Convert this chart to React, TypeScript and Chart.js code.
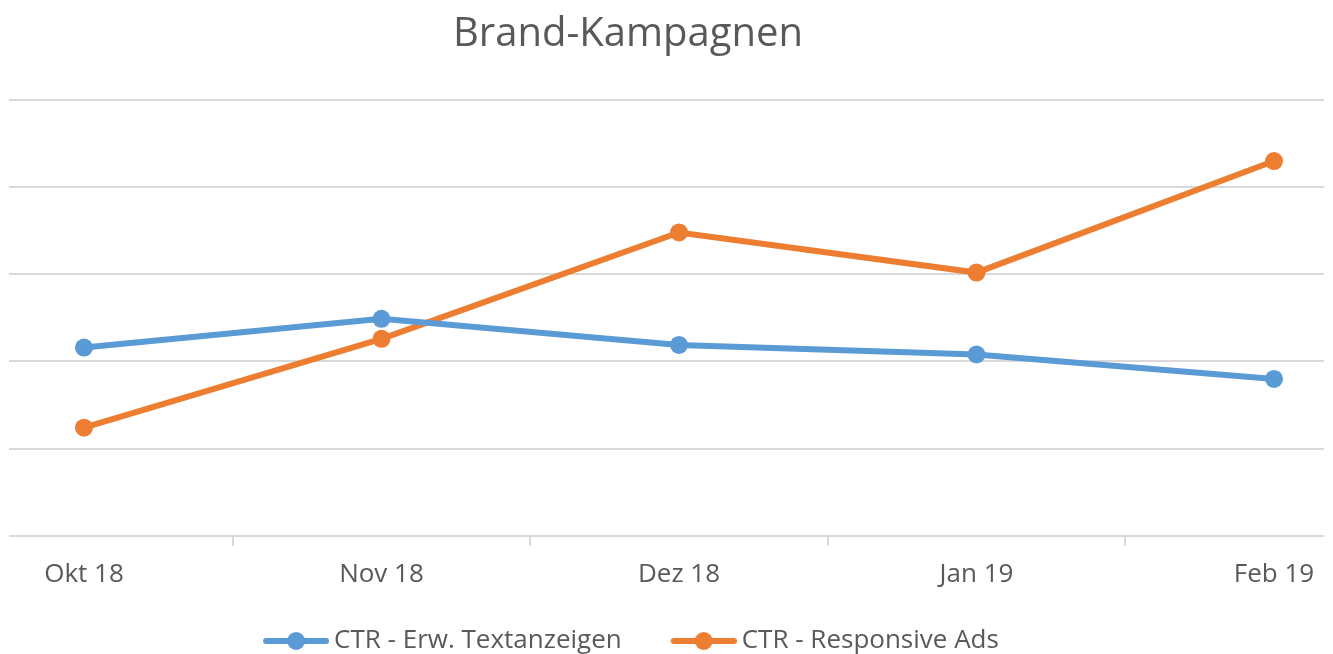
import React, { useEffect, useRef } from "react";
import { Chart, registerables } from "chart.js";

Chart.register(...registerables);

const TITLE = "Brand-Kampagnen";
const categories = ["Okt 18", "Nov 18", "Dez 18", "Jan 19", "Feb 19"];
const seriesNames = ["CTR - Erw. Textanzeigen", "CTR - Responsive Ads"];
const textanzeigen = [2.16, 2.49, 2.19, 2.08, 1.8];
const responsiveAds = [1.24, 2.26, 3.48, 3.02, 4.3];
const colors = ["#5B9BD5", "#ED7D31"];

const FONT = "'Open Sans', 'Noto Sans', sans-serif";
const TEXT_COLOR = "#595959";
const GRID_COLOR = "#d9d9d9";

const LEGEND_BOX_W = 82;
const MARKER_K = 8;

function makeMarker(color: string): HTMLCanvasElement {
  const c = document.createElement("canvas");
  const w = LEGEND_BOX_W + 2 * MARKER_K;
  c.width = w;
  c.height = 22;
  const ctx = c.getContext("2d")!;
  const x1 = w - 66;
  const x2 = w;
  ctx.strokeStyle = color;
  ctx.lineWidth = 6;
  ctx.lineCap = "round";
  ctx.beginPath();
  ctx.moveTo(x1 + 3, 11);
  ctx.lineTo(x2 - 3, 11);
  ctx.stroke();
  ctx.fillStyle = color;
  ctx.beginPath();
  ctx.arc((x1 + x2) / 2, 11, 9, 0, Math.PI * 2);
  ctx.fill();
  return c;
}

const titlePlugin = {
  id: "customTitle",
  afterDraw(chart: any) {
    const ctx = chart.ctx;
    ctx.save();
    ctx.font = `40px ${FONT}`;
    ctx.fillStyle = TEXT_COLOR;
    ctx.textAlign = "center";
    ctx.textBaseline = "alphabetic";
    ctx.fillText(TITLE, 628, 46);
    ctx.restore();
  },
};

const legendShift = {
  id: "legendShift",
  afterLayout(chart: any) {
    const l = chart.legend;
    if (l) {
      l.left -= 50;
      l.right -= 50;
    }
  },
};

export default function App() {
  const ref = useRef<HTMLCanvasElement | null>(null);

  useEffect(() => {
    if (!ref.current) return;
    const markers = colors.map(makeMarker);
    const xs = categories.map((_, i) => i);
    const chart = new Chart(ref.current, {
      type: "line",
      data: {
        datasets: [textanzeigen, responsiveAds].map((vals, i) => ({
          label: seriesNames[i],
          data: vals.map((v, j) => ({ x: xs[j], y: v })),
          borderColor: colors[i],
          backgroundColor: colors[i],
          borderWidth: 6,
          pointRadius: 9,
          pointHoverRadius: 9,
          pointBorderWidth: 0,
          tension: 0,
        })),
      },
      plugins: [titlePlugin, legendShift],
      options: {
        responsive: false,
        animation: false,
        layout: { padding: { top: 100, left: 8, right: 3, bottom: 0 } },
        scales: {
          x: {
            type: "linear",
            min: -0.252,
            max: 4.168,
            afterBuildTicks: (s: any) => {
              const t = [];
              for (let v = 0; v <= 4.0001; v += 0.5) t.push({ value: v });
              s.ticks = t;
            },
            afterFit: (s: any) => {
              s.paddingLeft = 0;
              s.paddingRight = 0;
            },
            border: { display: false },
            grid: {
              drawOnChartArea: false,
              drawTicks: true,
              tickLength: 10,
              lineWidth: 2,
              color: (c: any) =>
                c.tick && Number.isInteger(c.tick.value) ? "rgba(0,0,0,0)" : GRID_COLOR,
            },
            ticks: {
              autoSkip: false,
              maxRotation: 0,
              padding: 13,
              color: TEXT_COLOR,
              font: { family: FONT, size: 26 },
              callback: (v: any) =>
                Number.isInteger(v) ? categories[v] ?? "" : "",
            },
          },
          y: {
            min: 0,
            max: 5,
            border: { display: false },
            grid: { color: GRID_COLOR, lineWidth: 2, drawTicks: false },
            ticks: { display: false, stepSize: 1 },
          },
        },
        plugins: {
          title: { display: false },
          tooltip: { enabled: false },
          legend: {
            position: "bottom",
            labels: {
              usePointStyle: true,
              pointStyleWidth: LEGEND_BOX_W,
              padding: 25,
              color: TEXT_COLOR,
              font: { family: FONT, size: 26 },
              generateLabels: (ch: any) =>
                Chart.defaults.plugins.legend.labels
                  .generateLabels(ch)
                  .map((l: any, i: number) => ({ ...l, pointStyle: markers[i] })),
            },
          },
        },
      },
    });
    return () => chart.destroy();
  }, []);

  return (
    <div style={{ position: "absolute", left: 0, top: 0, width: 1333, height: 654, overflow: "hidden", background: "#fff" }}>
      <canvas ref={ref} width={1333} height={664} />
    </div>
  );
}
